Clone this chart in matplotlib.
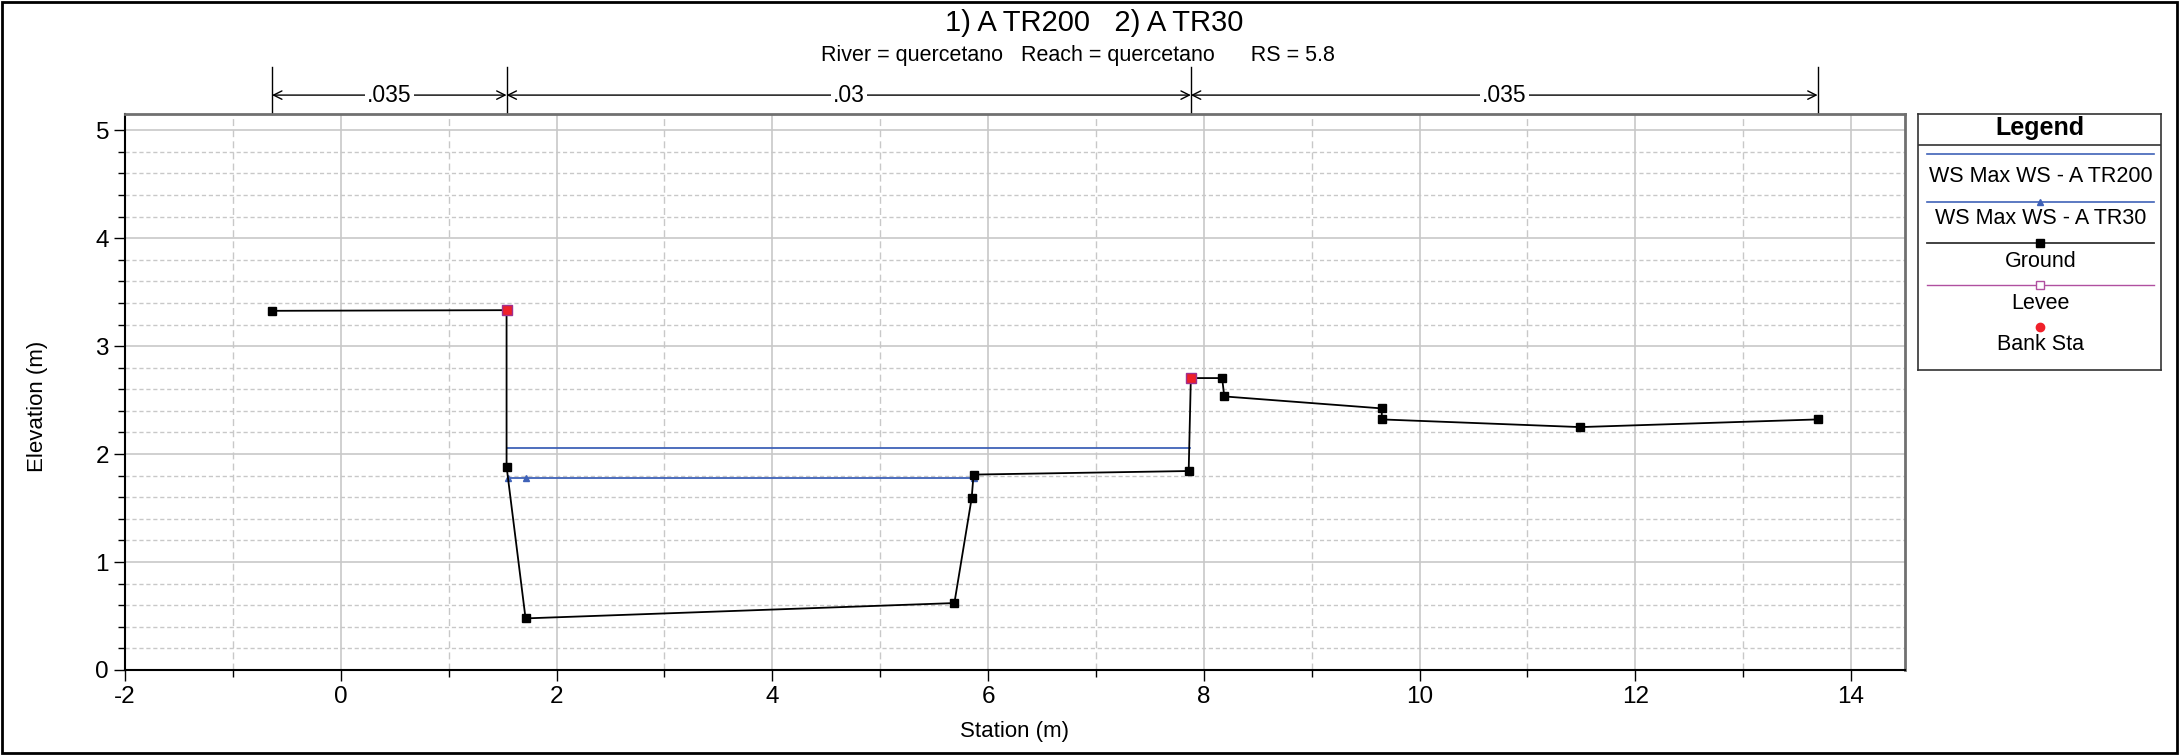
import matplotlib
matplotlib.use("Agg")
import matplotlib.pyplot as plt
from matplotlib.ticker import MultipleLocator
from matplotlib.patches import Rectangle
import matplotlib.transforms as mtransforms

plt.rcParams['font.family'] = ['Liberation Sans', 'DejaVu Sans']
plt.rcParams['axes.unicode_minus'] = False

# ---- data ----
ground_x = [-0.633, 1.537, 1.537, 1.713, 5.688, 5.848, 5.866, 7.86, 7.88, 8.17, 8.19, 9.65, 9.65, 11.49, 13.69]
ground_y = [3.327, 3.333, 1.884, 0.478, 0.62, 1.59, 1.81, 1.843, 2.704, 2.704, 2.534, 2.423, 2.321, 2.25, 2.321]
bank_x = [1.537, 7.88]
bank_y = [3.333, 2.704]
ws200_x = [1.537, 7.87]
ws200_y = [2.06, 2.06]
ws30_x = [1.55, 1.713, 5.866]
ws30_y = [1.778, 1.778, 1.778]
n_values = ['.035', '.03', '.035']
n_bounds = [-0.637, 1.537, 7.88, 13.69]
legend_labels = ['WS Max WS - A TR200', 'WS Max WS - A TR30', 'Ground', 'Levee', 'Bank Sta']

title = '1) A TR200   2) A TR30'
subtitle = 'River = quercetano   Reach = quercetano      RS = 5.8'

W, H = 2179, 755
fig = plt.figure(figsize=(W/100, H/100), dpi=100)
ax = fig.add_axes([125/W, 1-670/H, (1905-125)/W, (670-114)/H])

blue = '#3f62b8'
ax.plot(ws200_x, ws200_y, color=blue, lw=1.3, zorder=3)
ax.plot(ws30_x, ws30_y, color=blue, lw=1.3, marker='^', ms=4.5, zorder=3)
ax.plot(ground_x, ground_y, color='black', lw=1.3, marker='s', ms=6, zorder=4)
ax.plot(bank_x, bank_y, ls='none', marker='s', ms=6.5, mfc='#e8202a', mec='#a03090', mew=1.0, zorder=5)
ax.plot(bank_x, bank_y, ls='none', marker='o', ms=5.5, mfc='#f0202a', mec='none', zorder=6)

ax.set_xlim(-2, 14.5)
ax.set_ylim(0, 5.15)
ax.xaxis.set_major_locator(MultipleLocator(2))
ax.xaxis.set_minor_locator(MultipleLocator(1))
ax.yaxis.set_major_locator(MultipleLocator(1))
ax.yaxis.set_minor_locator(MultipleLocator(0.2))
ax.grid(which='major', color='#c8c8c8', lw=1.2, ls='-')
ax.grid(which='minor', axis='x', color='#c8c8c8', lw=1.0, ls=(0, (5, 3)))
ax.grid(which='minor', axis='y', color='#c8c8c8', lw=1.0, ls=(0, (3, 2)))
ax.set_axisbelow(True)
ax.tick_params(which='major', direction='out', length=8, width=1.0, labelsize=17.5, colors='black')
ax.tick_params(which='minor', direction='out', length=5, width=1.0)
for s in ['left', 'bottom']:
    ax.spines[s].set_color('black'); ax.spines[s].set_linewidth(1.5)
for s in ['top', 'right']:
    ax.spines[s].set_color('#707070'); ax.spines[s].set_linewidth(2.0)

fig.text(1015/W, 1-732/H, 'Station (m)', ha='center', va='center', fontsize=16)
fig.text(37.5/W, 1-406/H, 'Elevation (m)', ha='center', va='center', fontsize=16, rotation=90)

# n-value bars above the plot
trans = mtransforms.blended_transform_factory(ax.transData, ax.transAxes)
ybar = 1.034
for b in n_bounds:
    ax.plot([b, b], [1.0, 1.085], transform=trans, color='black', lw=1.0, clip_on=False)
for i, lab in enumerate(n_values):
    x0, x1 = n_bounds[i], n_bounds[i+1]
    ax.annotate('', xy=(x0, ybar), xytext=(x1, ybar), xycoords=trans, textcoords=trans,
                arrowprops=dict(arrowstyle='<->,head_length=0.6,head_width=0.3', color='black', lw=1.0,
                                shrinkA=0, shrinkB=0), annotation_clip=False)
    ax.text((x0+x1)/2, ybar, lab, transform=trans, ha='center', va='center', fontsize=16.5,
            bbox=dict(facecolor='white', edgecolor='none', pad=1.5), clip_on=False)

fig.text(0.502, 1-23/H, title, ha='center', va='center', fontsize=21)
fig.text(0.4945, 1-56/H, subtitle, ha='center', va='center', fontsize=15.5)

# legend panel
lx0, lx1, ly0, ly1 = 1918, 2161, 114, 370
lax = fig.add_axes([lx0/W, 1-ly1/H, (lx1-lx0)/W, (ly1-ly0)/H])
lax.set_xlim(lx0, lx1); lax.set_ylim(ly1, ly0)
lax.set_xticks([]); lax.set_yticks([])
for s in lax.spines.values():
    s.set_color('#333333'); s.set_linewidth(1.2)
lax.text((lx0+lx1)/2, 128, 'Legend', ha='center', va='center', fontsize=18, fontweight='bold')
lax.plot([lx0, lx1], [144.5, 144.5], color='#333333', lw=1.2)
xa, xb, xm = 1927, 2154, (1927+2154)/2
lax.plot([xa, xb], [154, 154], color=blue, lw=1.2)
lax.plot([xa, xb], [201.5, 201.5], color=blue, lw=1.2)
lax.plot([xm], [201.5], marker='^', color=blue, ms=4.5)
lax.plot([xa, xb], [243, 243], color='#333333', lw=1.3)
lax.plot([xm], [243], marker='s', color='black', ms=6)
lax.plot([xa, xb], [285, 285], color='#b050a0', lw=1.0)
lax.plot([xm], [285], marker='s', mfc='white', mec='#b050a0', ms=6)
lax.plot([xm], [326.6], marker='o', color='#f0202a', ms=6, ls='none')
for lab, y in zip(legend_labels, [176.5, 218, 261, 303, 344.6]):
    lax.text(xm, y, lab, ha='center', va='center', fontsize=15.5)

# figure border
fig.patches.append(Rectangle((2/W, 2/H), 1-4/W, 1-4/H, transform=fig.transFigure,
                             fill=False, edgecolor='black', lw=2.0))

fig.savefig('out.png', dpi=100)
